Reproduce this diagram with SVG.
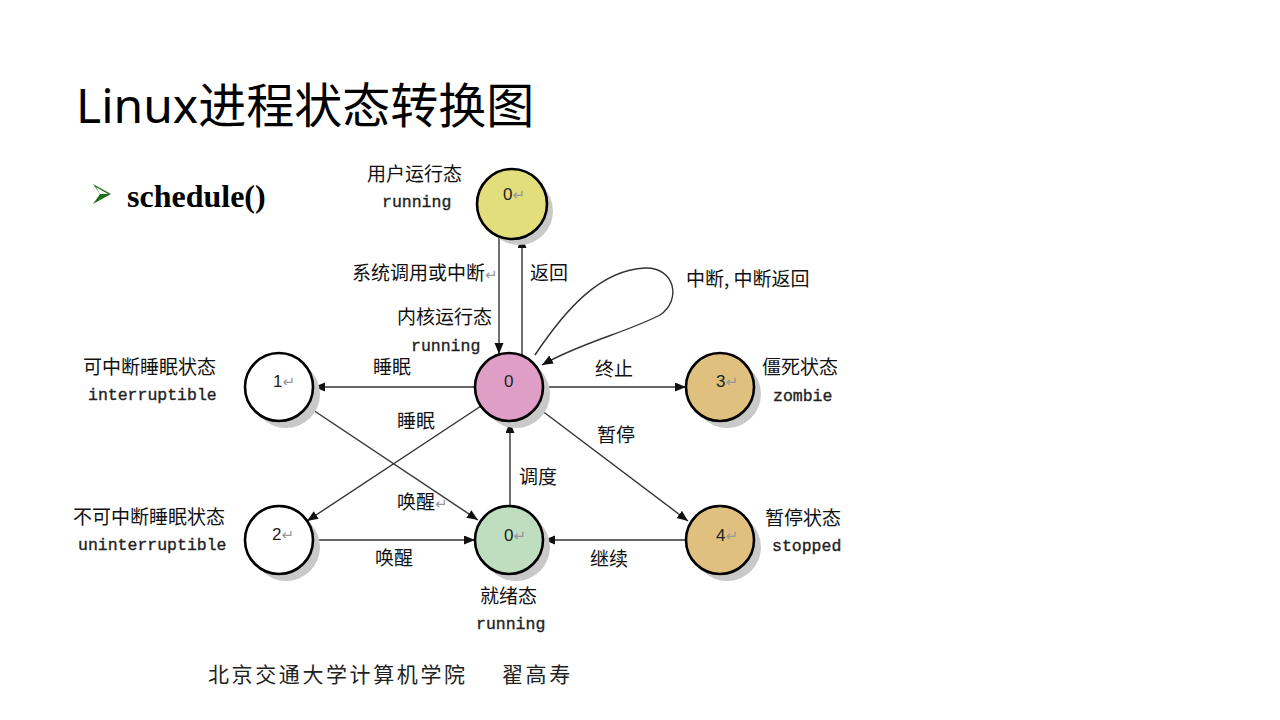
<svg xmlns="http://www.w3.org/2000/svg" width="1280" height="720" viewBox="0 0 1280 720">
<style>
.title{font-family:"Noto Sans","Noto Sans CJK SC",sans-serif;font-size:48px;fill:#000}
.lbl{font-family:"Noto Sans CJK SC",sans-serif;font-size:19px;fill:#111}
.mono{font-family:"Liberation Mono",monospace;font-size:16.5px;fill:#222;stroke:#222;stroke-width:0.35}
.num{font-family:"Liberation Sans",sans-serif;font-size:17px;fill:#222}
.ret{font-family:"DejaVu Sans",sans-serif;font-size:15px;fill:#999}
.shadow{fill:#c9c9c9}
.node{stroke:#000;stroke-width:2.6}
.conn{stroke:#333;stroke-width:1.4;fill:none}
.foot{font-family:"Noto Sans CJK SC",sans-serif;font-size:21px;fill:#222;letter-spacing:2.6px}
</style>
<defs>
<marker id="ah" markerUnits="userSpaceOnUse" markerWidth="12" markerHeight="10" refX="11" refY="4.5" orient="auto">
<path d="M0,0 L11,4.5 L0,9 Z" fill="#111"/>
</marker>
</defs>
<rect width="1280" height="720" fill="#fff"/>
<text class="title" x="76" y="123">Linux进程状态转换图</text>
<g id="bullet">
<polygon points="93,184 111,194 93,204 100,194" fill="#1e6e1e"/>
<polygon points="96,187 108,194 100,194" fill="#fff"/>
<text x="127" y="207" font-family="Liberation Serif,serif" font-weight="bold" font-size="32" fill="#000">schedule()</text>
</g>

<g id="connectors">
<line class="conn" x1="499" y1="235" x2="499" y2="354" marker-end="url(#ah)"/>
<line class="conn" x1="522" y1="356" x2="522" y2="237" marker-end="url(#ah)"/>
<path class="conn" d="M535,355 C565,310 600,270 645,268 C675,267 682,300 660,315 C625,333 580,343 542,365" marker-end="url(#ah)"/>
<line class="conn" x1="475" y1="387" x2="314" y2="387" marker-end="url(#ah)"/>
<line class="conn" x1="543" y1="387" x2="686" y2="387" marker-end="url(#ah)"/>
<line class="conn" x1="481" y1="406" x2="307" y2="521" marker-end="url(#ah)"/>
<line class="conn" x1="307" y1="406" x2="478" y2="520" marker-end="url(#ah)"/>
<line class="conn" x1="510" y1="506" x2="510" y2="422" marker-end="url(#ah)"/>
<line class="conn" x1="537" y1="407" x2="688" y2="521" marker-end="url(#ah)"/>
<line class="conn" x1="313" y1="540" x2="475" y2="540" marker-end="url(#ah)"/>
<line class="conn" x1="686" y1="540" x2="544" y2="540" marker-end="url(#ah)"/>
</g>

<g id="edge-labels">
<text class="lbl" x="352" y="280">系统调用或中断<tspan class="ret">↵</tspan></text>
<text class="lbl" x="530" y="280">返回</text>
<text class="lbl" x="686" y="286">中断, 中断返回</text>
<text class="lbl" x="373" y="374">睡眠</text>
<text class="lbl" x="595" y="376">终止</text>
<text class="lbl" x="397" y="428">睡眠</text>
<text class="lbl" x="597" y="442">暂停</text>
<text class="lbl" x="519" y="484">调度</text>
<text class="lbl" x="397" y="509">唤醒<tspan class="ret">↵</tspan></text>
<text class="lbl" x="375" y="565">唤醒</text>
<text class="lbl" x="590" y="566">继续</text>
</g>

<g id="node-user">
<circle class="shadow" cx="519" cy="211" r="34"/>
<circle class="node" cx="512" cy="204" r="35" fill="#e2de7c"/>
<text class="num" x="503" y="200">0<tspan class="ret">↵</tspan></text>
<text class="lbl" x="367" y="181">用户运行态</text>
<text class="mono" x="382" y="207">running</text>
</g>

<g id="node-kernel">
<circle class="shadow" cx="516" cy="394" r="34"/>
<circle class="node" cx="509" cy="387" r="34" fill="#de9ec6"/>
<text class="num" x="504" y="387">0</text>
<text class="lbl" x="397" y="324">内核运行态</text>
<text class="mono" x="411" y="351">running</text>
</g>

<g id="node-interruptible">
<circle class="shadow" cx="286" cy="394" r="34"/>
<circle class="node" cx="279" cy="387" r="34" fill="#fff"/>
<text class="num" x="273" y="387">1<tspan class="ret">↵</tspan></text>
<text class="lbl" x="83" y="374">可中断睡眠状态</text>
<text class="mono" x="88" y="400">interruptible</text>
</g>

<g id="node-uninterruptible">
<circle class="shadow" cx="286" cy="547" r="34"/>
<circle class="node" cx="279" cy="540" r="34" fill="#fff"/>
<text class="num" x="272" y="540">2<tspan class="ret">↵</tspan></text>
<text class="lbl" x="73" y="524">不可中断睡眠状态</text>
<text class="mono" x="78" y="550">uninterruptible</text>
</g>

<g id="node-zombie">
<circle class="shadow" cx="727" cy="394" r="34"/>
<circle class="node" cx="720" cy="387" r="34" fill="#e0c07e"/>
<text class="num" x="716" y="387">3<tspan class="ret">↵</tspan></text>
<text class="lbl" x="762" y="374">僵死状态</text>
<text class="mono" x="773" y="401">zombie</text>
</g>

<g id="node-ready">
<circle class="shadow" cx="516" cy="547" r="34"/>
<circle class="node" cx="509" cy="540" r="34" fill="#bfddbf"/>
<text class="num" x="504" y="541">0<tspan class="ret">↵</tspan></text>
<text class="lbl" x="480" y="603">就绪态</text>
<text class="mono" x="476" y="629">running</text>
</g>

<g id="node-stopped">
<circle class="shadow" cx="727" cy="547" r="34"/>
<circle class="node" cx="720" cy="540" r="34" fill="#e0c07e"/>
<text class="num" x="716" y="541">4<tspan class="ret">↵</tspan></text>
<text class="lbl" x="765" y="525">暂停状态</text>
<text class="mono" x="772" y="551">stopped</text>
</g>

<g id="footer">
<text class="foot" x="208" y="682">北京交通大学计算机学院</text>
<text class="foot" x="502" y="682">翟高寿</text>
</g>
</svg>
